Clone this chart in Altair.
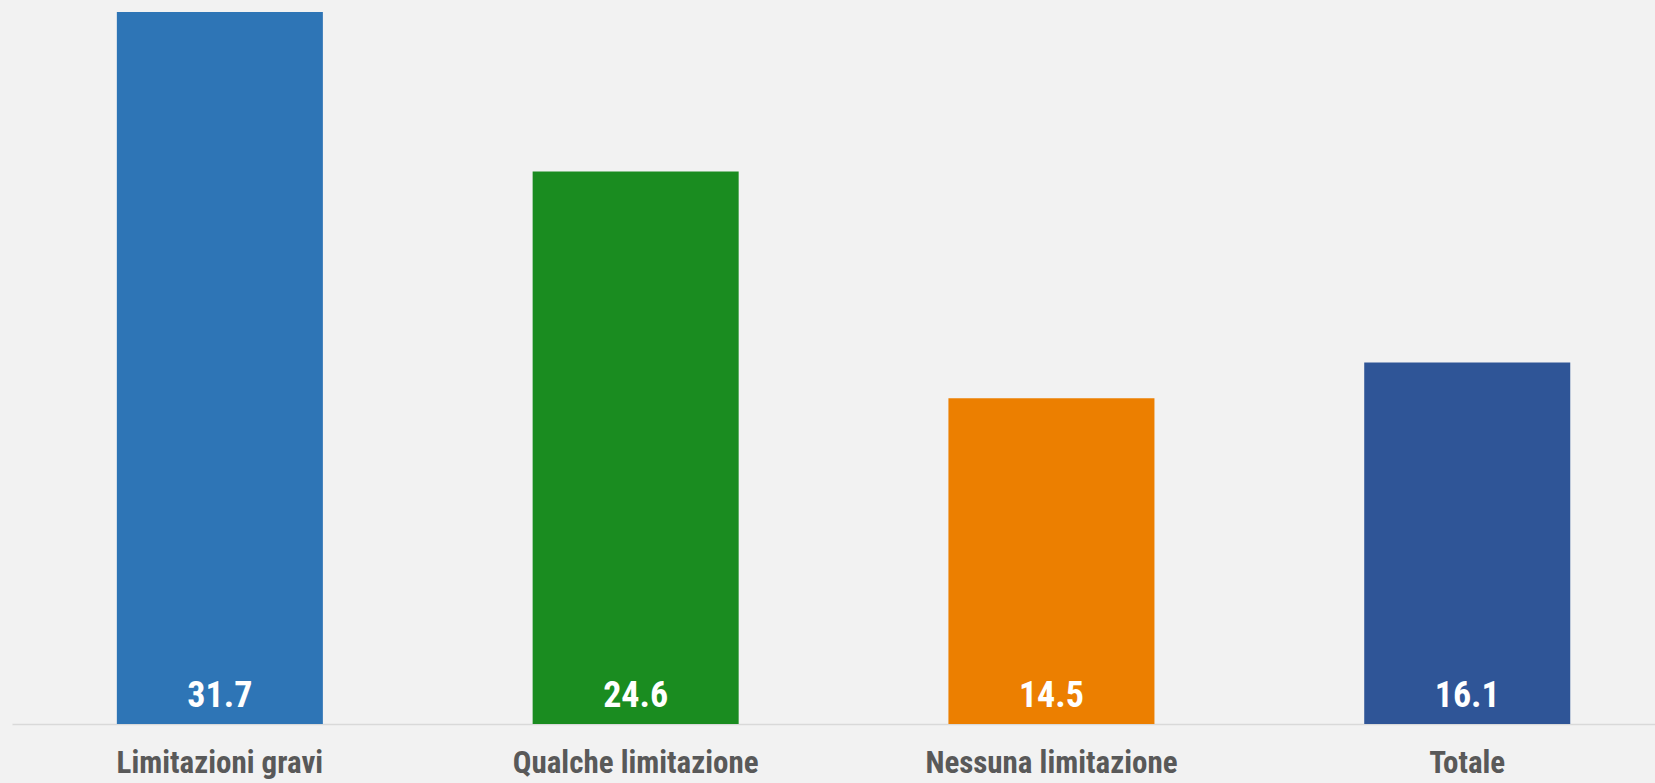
import altair as alt
import pandas as pd

categories = ["Limitazioni gravi", "Qualche limitazione", "Nessuna limitazione", "Totale"]
values = [31.7, 24.6, 14.5, 16.1]
colors = ["#2E75B6", "#1A8C20", "#EC7F00", "#2F5597"]

df = pd.DataFrame({"categoria": categories, "valore": values, "colore": colors})

FONT = "'Liberation Sans Narrow', 'Arial Narrow', 'Roboto Condensed', 'Liberation Sans', Arial, sans-serif"

x = alt.X(
    "categoria:N",
    sort=categories,
    title=None,
    scale=alt.Scale(paddingInner=0.5045, paddingOuter=0.228, align=0.553),
    axis=alt.Axis(
        labelAngle=0,
        labelFont=FONT,
        labelFontSize=31,
        labelFontWeight="bold",
        labelColor="#595959",
        labelBaseline="alphabetic",
        labelPadding=48,
        labelLimit=0,
        ticks=False,
        tickSize=0,
        domainColor="#D9D9D9",
        domainWidth=1.5,
        grid=False,
    ),
)

y_scale = alt.Scale(domain=[0, 31.7], nice=False, zero=True)

bars = alt.Chart(df).mark_bar().encode(
    x=x,
    y=alt.Y("valore:Q", scale=y_scale, axis=None),
    color=alt.Color("colore:N", scale=None, legend=None),
)

labels = alt.Chart(df).mark_text(
    font=FONT,
    fontSize=36,
    fontWeight="bold",
    color="white",
    baseline="alphabetic",
    align="center",
    dy=-17,
).encode(
    x=alt.X("categoria:N", sort=categories),
    y=alt.datum(0),
    text=alt.Text("valore:Q", format=".1f"),
)

chart = (
    alt.layer(bars, labels)
    .properties(
        width=1643,
        height=712,
        background="#F2F2F2",
        padding={"left": 12, "top": 12, "right": 0, "bottom": 59},
        autosize=alt.AutoSizeParams(type="none"),
    )
    .configure_view(stroke=None)
)

chart.save("out.html", embed_options={"renderer": "svg", "actions": False})
